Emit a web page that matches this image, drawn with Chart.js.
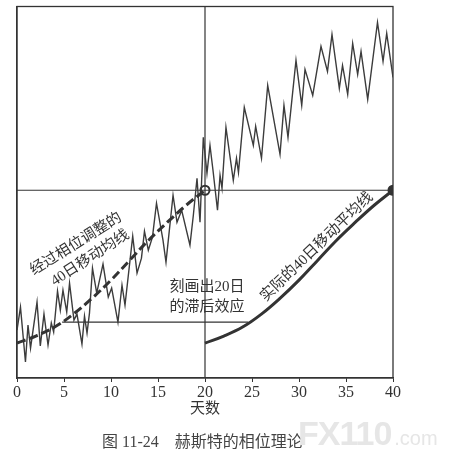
<!DOCTYPE html>
<html>
<head>
<meta charset="utf-8">
<script src="https://cdn.jsdelivr.net/npm/chart.js@4.4.0/dist/chart.umd.min.js"></script>
<style>
html, body { margin: 0; padding: 0; background: #fff; }
#wrap { position: relative; width: 467px; height: 474px; }
canvas { display: block; }
.mark { position: absolute; left: 298px; top: 414px; font: bold 34px 'Liberation Sans', sans-serif; color: #e6e6e6; letter-spacing: -1px; }
.mark span { font-size: 20px; font-weight: normal; letter-spacing: 0; margin-left: 3px; }
.caption { position: absolute; left: 102px; top: 428px; font: 16px 'Liberation Serif', 'Noto Sans CJK SC', serif; color: #444; white-space: pre; }
</style>
</head>
<body>
<div id="wrap">
  <canvas id="chart" width="467" height="474"></canvas>
  <div class="caption">图 11-24　赫斯特的相位理论</div>
  <div class="mark">FX110<span>.com</span></div>
</div>
<script>
// 价格（天数, 价格）
const priceDays = [0, 0.37, 0.9, 1.17, 1.44, 2.13, 2.48, 2.87, 3.3, 3.65, 3.9, 4.31, 4.61, 4.89, 5.29, 5.59,
  6.06, 6.38, 6.91, 7.18, 7.45, 7.71, 8.03, 8.48, 9.15, 9.71, 10.07, 10.74, 11.17, 11.49, 12.31, 12.77,
  13.24, 13.56, 13.97, 14.41, 14.84, 15.53, 15.85, 16.6, 17.02, 17.52, 18.4, 18.76, 19.15, 19.47, 19.82,
  20.21, 20.53, 20.85, 21.33, 21.6, 21.81, 22.23, 23.01, 23.35, 23.56, 24.18, 25.14, 25.39, 26.01, 26.67,
  27.98, 28.4, 28.83, 29.68, 30.29, 30.64, 31.46, 32.34, 33.03, 33.51, 34.29, 34.63, 35.18, 35.71, 36.24,
  36.6, 37.31, 38.35, 38.94, 39.33, 40];
const priceValues = [48, 71, 16, 53, 30, 76, 32, 64, 33, 55, 46, 87, 68, 88, 66, 95,
  58, 64, 34, 62, 45, 65, 110, 85, 114, 81, 90, 56, 93, 73, 142, 105,
  120, 147, 128, 141, 175, 138, 116, 183, 156, 168, 133, 163, 200, 156, 241,
  205, 233, 208, 168, 203, 190, 251, 198, 220, 206, 271, 233, 252, 220, 293,
  224, 273, 241, 318, 273, 309, 283, 332, 307, 344, 290, 313, 284, 335, 304,
  327, 279, 356, 317, 345, 301];

// 经过相位调整的40日移动均线
const phasedDays = [0, 2, 4, 6, 8, 10, 12, 14, 16, 18, 20];
const phasedValues = [35, 42, 51, 64, 80, 98, 118, 138, 156, 173, 188];

// 实际的40日移动平均线
const actualDays = [20, 22, 24, 26, 28, 30, 32, 34, 36, 38, 40];
const actualValues = [35, 42, 51, 64, 80, 98, 118, 138, 156, 173, 188];

// 参考线
const vLineDays = [20, 20];
const vLineValues = [0, 372];
const topLineDays = [0, 40];
const topLineValues = [188, 188];
const lagLineDays = [4.8, 24.6];
const lagLineValues = [56, 56];

const xTicks = [0, 5, 10, 15, 20, 25, 30, 35, 40];

const pts = (xs, ys) => xs.map((x, i) => ({ x: x, y: ys[i] }));

const ink = '#333';
const serif = "'Liberation Serif', 'Noto Sans CJK SC', serif";

const notes = [
  { text: '经过相位调整的', day: 6.3, value: 134, angle: -32 },
  { text: '40日移动均线', day: 7.8, value: 120, angle: -33 },
  { text: '实际的40日移动平均线', day: 31.9, value: 131, angle: -44 },
  { text: '刻画出20日', day: 20.2, value: 91, angle: 0 },
  { text: '的滞后效应', day: 20.2, value: 71, angle: 0 }
];

const frame = {
  id: 'frame',
  beforeDatasetsDraw(chart) {
    const a = chart.chartArea, ctx = chart.ctx;
    ctx.save();
    ctx.strokeStyle = ink;
    ctx.lineWidth = 1.3;
    ctx.strokeRect(a.left, a.top, a.right - a.left, a.bottom - a.top);
    ctx.restore();
  }
};

const labels = {
  id: 'labels',
  afterDatasetsDraw(chart) {
    const ctx = chart.ctx, sx = chart.scales.x, sy = chart.scales.y;
    ctx.save();
    ctx.fillStyle = ink;
    ctx.font = '15px ' + serif;
    ctx.textAlign = 'center';
    ctx.textBaseline = 'middle';
    notes.forEach(n => {
      ctx.save();
      ctx.translate(sx.getPixelForValue(n.day), sy.getPixelForValue(n.value));
      ctx.rotate(n.angle * Math.PI / 180);
      ctx.fillText(n.text, 0, 0);
      ctx.restore();
    });
    ctx.restore();
  }
};

new Chart(document.getElementById('chart'), {
  type: 'line',
  data: {
    datasets: [
      {
        data: pts(phasedDays, phasedValues), borderColor: ink, borderWidth: 3,
        borderDash: [9, 4], tension: 0.4, pointRadius: 0
      },
      {
        data: pts(actualDays, actualValues), borderColor: ink, borderWidth: 3,
        tension: 0.4, pointRadius: 0
      },
      {
        // 两个端点
        data: [{ x: phasedDays[10], y: phasedValues[10] }, { x: actualDays[10], y: actualValues[10] }],
        showLine: false, pointRadius: 4.5, borderWidth: 2, borderColor: ink,
        pointBackgroundColor: ['rgba(0,0,0,0)', ink]
      },
      {
        data: pts(priceDays, priceValues), borderColor: '#3c3c3c', borderWidth: 1.4,
        tension: 0, pointRadius: 0
      },
      { data: pts(vLineDays, vLineValues), borderColor: ink, borderWidth: 1.2, pointRadius: 0 },
      { data: pts(topLineDays, topLineValues), borderColor: ink, borderWidth: 1.2, pointRadius: 0 },
      { data: pts(lagLineDays, lagLineValues), borderColor: ink, borderWidth: 1.2, pointRadius: 0 }
    ]
  },
  options: {
    responsive: false,
    animation: false,
    layout: { padding: { left: 17, right: 74, top: 6, bottom: 56 } },
    plugins: { legend: { display: false }, tooltip: { enabled: false } },
    scales: {
      x: {
        type: 'linear', min: 0, max: 40,
        afterBuildTicks: s => { s.ticks = xTicks.map(v => ({ value: v })); },
        afterFit: s => { s.height = 40; },
        ticks: { color: ink, padding: 1, font: { family: serif, size: 16 } },
        grid: { display: true, drawOnChartArea: false, drawTicks: true, tickLength: 4, color: ink },
        border: { display: true, color: ink, width: 1.3 },
        title: { display: true, text: '天数', color: ink, padding: 0, font: { family: serif, size: 15 } }
      },
      y: {
        type: 'linear', min: 0, max: 372,
        afterFit: s => { s.width = 0; },
        ticks: { display: false },
        grid: { display: false },
        border: { display: true, color: ink, width: 1.3 }
      }
    }
  },
  plugins: [frame, labels]
});
</script>
</body>
</html>
